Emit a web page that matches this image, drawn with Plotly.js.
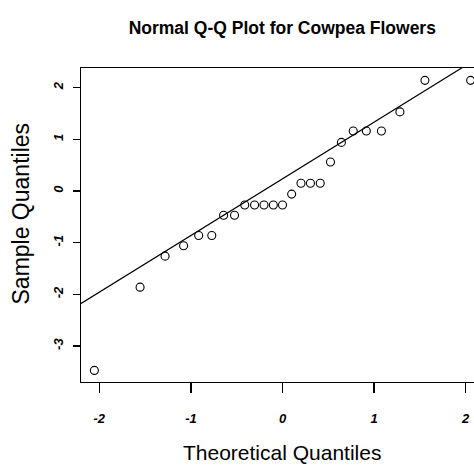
<!DOCTYPE html>
<html>
<head>
<meta charset="utf-8">
<script src="https://cdn.plot.ly/plotly-3.0.1.min.js"></script>
<style>
html,body{margin:0;padding:0;overflow:hidden;background:#fff;width:474px;height:465px;}
#chart{width:500px;height:465px;}
</style>
</head>
<body>
<div id="chart"></div>
<script>
// Theoretical normal quantiles (n = 25), read from the x positions
var theoretical = [-2.054,-1.555,-1.282,-1.080,-0.915,-0.772,-0.643,-0.524,-0.412,-0.305,-0.202,-0.100,0.000,
                   0.100,0.202,0.305,0.412,0.524,0.643,0.772,0.915,1.080,1.282,1.555,2.054];
// Sorted sample quantiles, read from the y positions
var sample = [-3.47,-1.86,-1.26,-1.06,-0.86,-0.86,-0.47,-0.47,-0.27,-0.27,-0.27,-0.27,-0.27,
              -0.06,0.15,0.15,0.15,0.56,0.94,1.16,1.16,1.16,1.53,2.14,2.14];
var xTicks = [-2,-1,0,1,2];
var yTicks = [-3,-2,-1,0,1,2];
var titleText = "Normal Q-Q Plot for Cowpea Flowers";
var xTitle = "Theoretical Quantiles";
var yTitle = "Sample Quantiles";

// qqline: line through the first and third quartiles
function q7(arr, p){ var s = arr.slice().sort(function(a,b){return a-b;}); var h=(s.length-1)*p; var lo=Math.floor(h); return s[lo]+(h-lo)*(s[Math.min(lo+1,s.length-1)]-s[lo]); }
var y1 = q7(sample,0.25), y3 = q7(sample,0.75);
var x1 = q7(theoretical,0.25), x3 = q7(theoretical,0.75);
var slope = (y3-y1)/(x3-x1), icpt = y1 - slope*x1;
var xr = [-2.2, 2.2];
var yr = [-3.694, 2.379];
var lineX = [xr[0]-1, xr[1]+1];
var lineY = lineX.map(function(x){return icpt + slope*x;});

var tickFont = {family:"Liberation Sans, Arial, sans-serif", size:13, color:"#000", weight:"bold", style:"italic"};

var data = [
  {x: lineX, y: lineY, type:"scatter", mode:"lines", line:{color:"#000", width:1.2}, hoverinfo:"skip", showlegend:false},
  {x: theoretical, y: sample, type:"scatter", mode:"markers", cliponaxis:false,
   marker:{symbol:"circle-open", size:8, color:"#000", line:{width:1.1, color:"#000"}}, showlegend:false}
];

var layout = {
  width:500, height:465,
  margin:{l:81, r:16, t:68, b:83},
  paper_bgcolor:"#fff", plot_bgcolor:"#fff",
  showlegend:false,
  title:{text:titleText, font:{family:"Liberation Sans, Arial, sans-serif", size:17.5, weight:"bold", color:"#000"},
         x:0.5646, xanchor:"center", y:1-28/465, yanchor:"middle", xref:"container", yref:"container"},
  xaxis:{range:xr, tickvals:xTicks, ticktext:xTicks.map(String), showgrid:false, zeroline:false,
         showline:true, mirror:true, linecolor:"#000", linewidth:1.3,
         ticks:"outside", ticklen:10, tickwidth:1.3, tickcolor:"#000", tickfont:tickFont, ticklabelstandoff:14},
  yaxis:{range:yr, tickvals:yTicks, ticktext:yTicks.map(String), showgrid:false, zeroline:false,
         showline:true, mirror:true, linecolor:"#000", linewidth:1.3,
         ticks:"outside", ticklen:7, tickwidth:1.3, tickcolor:"#000", tickfont:tickFont, tickangle:-90, ticklabelstandoff:5},
  annotations:[
    {text:xTitle, xref:"paper", yref:"paper", x:(282-81)/403, y:(382-452)/314, xanchor:"center", yanchor:"middle",
     showarrow:false, font:{family:"Liberation Sans, Arial, sans-serif", size:21, color:"#000"}},
    {text:yTitle, xref:"paper", yref:"paper", x:(21-81)/403, y:(382-213.5)/314, xanchor:"center", yanchor:"middle",
     textangle:-90, showarrow:false, font:{family:"Liberation Sans, Arial, sans-serif", size:23, color:"#000"}}
  ]
};

Plotly.newPlot("chart", data, layout, {displayModeBar:false, staticPlot:true});
</script>
</body>
</html>
